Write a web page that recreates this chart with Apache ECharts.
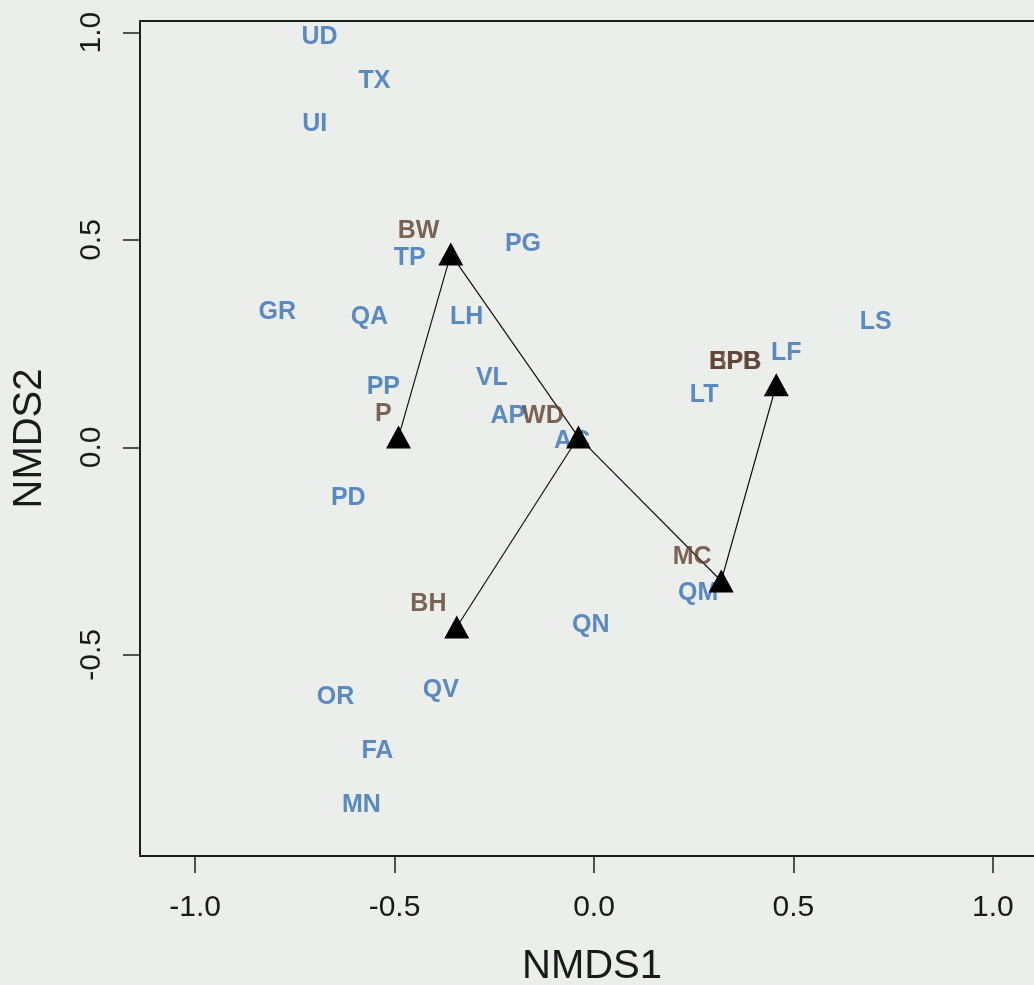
<!DOCTYPE html>
<html>
<head>
<meta charset="utf-8">
<script src="https://cdn.jsdelivr.net/npm/echarts@6/dist/echarts.min.js"></script>
<style>
html,body{margin:0;padding:0;background:#eceeec;overflow:hidden;}
#chart{width:1034px;height:985px;}
</style>
</head>
<body>
<div id="chart"></div>
<script>
// Species scores (blue labels)
const speciesNames = ['UD','TX','UI','PG','TP','GR','QA','LH','LS','LF','LT','PP','VL','AP','AC','PD','QM','QN','OR','QV','FA','MN'];
const speciesX = [-0.688,-0.550,-0.700,-0.178,-0.462,-0.794,-0.563,-0.319,0.706,0.482,0.276,-0.528,-0.256,-0.216,-0.055,-0.616,0.261,-0.008,-0.648,-0.384,-0.543,-0.583];
const speciesY = [0.988,0.884,0.780,0.490,0.457,0.326,0.315,0.315,0.303,0.227,0.126,0.146,0.168,0.076,0.016,-0.123,-0.351,-0.428,-0.602,-0.585,-0.732,-0.862];

// Site labels (brown)
const siteNames = ['BW','P','EPB','BPB','WD','BH','MC'];
const siteX = [-0.440,-0.528,0.354,0.354,-0.128,-0.415,0.246];
const siteY = [0.522,0.081,0.206,0.206,0.076,-0.378,-0.264];

// Group centroids (triangles)
const centroidNames = ['BW','P','C','BH','MC','LF'];
const centroidX = [-0.359,-0.490,-0.039,-0.344,0.319,0.457];
const centroidY = [0.466,0.025,0.025,-0.433,-0.322,0.151];

// Connecting paths (by centroid name)
const path1 = ['P','BW','C','MC','LF'];
const path2 = ['C','BH'];

const tickValues = [-1.0,-0.5,0.0,0.5,1.0];

function pt(name){const i=centroidNames.indexOf(name);return [centroidX[i],centroidY[i]];}

const chart = echarts.init(document.getElementById('chart'), null, {renderer:'canvas'});
const FONT = 'Liberation Sans, Arial, sans-serif';
const XMIN = -1.138, XMAX = 1.103, YMIN = -0.985, YMAX = 1.028;
const boxLine = {show:true, onZero:false, lineStyle:{color:'#1e1e1e', width:2}};

chart.setOption({
  backgroundColor:'#eceeec',
  animation:false,
  grid:{left:140, top:21, right:0, bottom:129, show:false},
  graphic:[{
    type:'text', x:592, y:967, z:10,
    style:{text:'NMDS1', font:'40px ' + FONT, fill:'#1a1a1a', textAlign:'center', textVerticalAlign:'middle'}
  }],
  xAxis:[{
    type:'value', min:XMIN, max:XMAX, position:'bottom',
    axisLine:boxLine,
    splitLine:{show:false},
    axisTick:{show:true, length:17, lineStyle:{color:'#1e1e1e', width:1.5}, customValues:tickValues},
    axisLabel:{show:true, margin:37, fontFamily:FONT, fontSize:30, color:'#1a1a1a', customValues:tickValues,
      formatter:v=>v.toFixed(1)}
  },{
    type:'value', min:XMIN, max:XMAX, position:'top',
    axisLine:boxLine, axisTick:{show:false}, axisLabel:{show:false}, splitLine:{show:false}
  }],
  yAxis:{
    type:'value', min:YMIN, max:YMAX,
    name:'NMDS2', nameLocation:'middle', nameGap:90,
    nameTextStyle:{fontFamily:FONT, fontSize:40, color:'#1a1a1a'},
    axisLine:boxLine,
    splitLine:{show:false},
    axisTick:{show:true, length:17, lineStyle:{color:'#1e1e1e', width:1.5}, customValues:tickValues.slice(1)},
    axisLabel:{show:true, margin:33, rotate:90, fontFamily:FONT, fontSize:30, color:'#1a1a1a', customValues:tickValues.slice(1),
      formatter:v=>v.toFixed(1)}
  },
  series:[
    {
      type:'line', data:path1.map(pt), symbol:'none', z:2,
      lineStyle:{color:'#111', width:1.2}
    },
    {
      type:'line', data:path2.map(pt), symbol:'none', z:2,
      lineStyle:{color:'#111', width:1.2}
    },
    {
      type:'scatter', symbolSize:0, z:3,
      data:speciesNames.map((n,i)=>({name:n, value:[speciesX[i],speciesY[i]]})),
      label:{show:true, position:'inside', formatter:p=>p.name, fontFamily:FONT, fontWeight:'bold', fontSize:25, color:'#3670b8'}
    },
    {
      type:'scatter', symbolSize:0, z:3,
      data:siteNames.map((n,i)=>({name:n, value:[siteX[i],siteY[i]]})),
      label:{show:true, position:'inside', formatter:p=>p.name, fontFamily:FONT, fontWeight:'bold', fontSize:25, color:'#5e3e30'}
    },
    {
      type:'scatter', symbol:'triangle', symbolSize:[25,23], z:5,
      itemStyle:{color:'#000', opacity:1},
      data:centroidNames.map((n,i)=>({name:n, value:[centroidX[i],centroidY[i]]}))
    }
  ]
});
</script>
</body>
</html>
